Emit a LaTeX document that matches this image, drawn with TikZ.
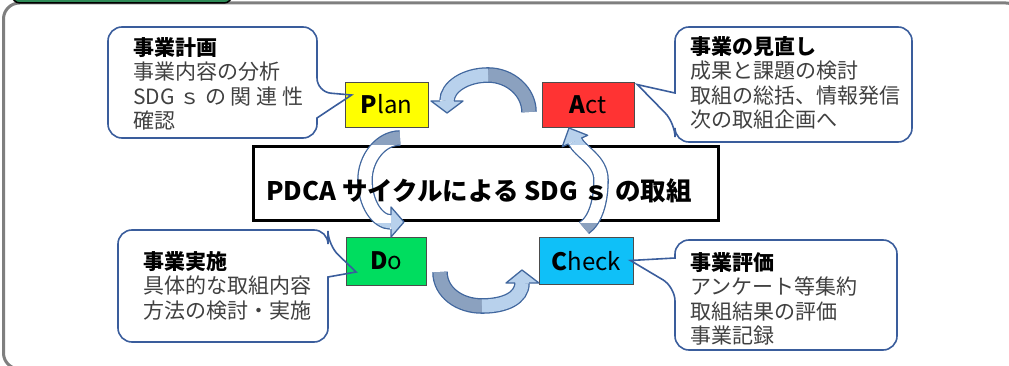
\documentclass[tikz,border=0pt]{standalone}
\usepackage{fontspec}
\setmainfont{Noto Sans CJK JP}
\usetikzlibrary{positioning,calc}

\definecolor{frameGray}{HTML}{7F7F7F}
\definecolor{tabGreen}{HTML}{2E8B57}
\definecolor{callBlue}{HTML}{3A5D9C}
\definecolor{arrLight}{HTML}{B8D1EC}
\definecolor{arrDark}{HTML}{8BA1BF}
\definecolor{arrEdge}{HTML}{41679E}
\definecolor{planY}{HTML}{FFFF00}
\definecolor{actR}{HTML}{FF3333}
\definecolor{doG}{HTML}{00DD5F}
\definecolor{chkC}{HTML}{0FC0F8}
\definecolor{bodyGray}{HTML}{404040}

\begin{document}
\begin{tikzpicture}[x=1pt,y=-1pt,on grid,
  pdca/.style={draw=black!70,line width=0.8,inner sep=0pt,font=\fontsize{24}{24}\selectfont},
  callout/.style={draw=callBlue,line width=1.6},
  calltext/.style={anchor=north west,inner sep=0pt,align=left,text=bodyGray,font=\fontsize{21}{24.5}\selectfont},
  bandedge/.style={draw=arrEdge,line width=15.6},
  bandlight/.style={draw=arrLight,line width=13},
  banddark/.style={draw=arrDark,line width=13},
  bandwhite/.style={draw=white,line width=13},
  headedge/.style={draw=arrEdge,line width=1.3,line join=round}]
  \useasboundingbox (0,0) rectangle (1009,366);

  % frame and tab
  \draw[frameGray,line width=3,rounded corners=16] (3.5,3) rectangle (1022,369);
  \draw[fill=tabGreen,draw=black,line width=1.5,rounded corners=8] (12,-20) rectangle (232,3);

  % the four steps
  \node[pdca,fill=planY,minimum width=83,minimum height=45]  (plan) at (386.5,104.5) {\textbf{P}lan};
  \node[pdca,fill=actR,minimum width=92,minimum height=45]   (act)   [right=201.5pt of plan] {\textbf{A}ct};
  \node[pdca,fill=doG,minimum width=80,minimum height=48]    (do)    [below=156.5pt of plan] {\textbf{D}o};
  \node[pdca,fill=chkC,minimum width=94,minimum height=47]   (check) [right=200pt of do] {\textbf{C}heck};

  \node[draw=black,line width=3,fill=white,minimum width=465,minimum height=74,inner sep=0pt] (titlebox) at (485.5,184) {};

  % curved arrows: tail, middle, head end
  \coordinate (ap1) at (529,112); \coordinate (ap2) at (488,75);  \coordinate (ap3) at (447,101);
  \coordinate (pd1) at (400,138); \coordinate (pd2) at (365,180); \coordinate (pd3) at (391,222);
  \coordinate (dc1) at (440,272); \coordinate (dc2) at (482,306); \coordinate (dc3) at (522,283);
  \coordinate (ca1) at (584,228); \coordinate (ca2) at (601,180); \coordinate (ca3) at (575,141);

  \draw[bandedge] (ap1) .. controls (529,92) and (510.5,75) .. (ap2) .. controls (465.5,75) and (447,87) .. (ap3);
  \draw[bandedge] (pd1) .. controls (381,138) and (365,158) .. (pd2) .. controls (365,203) and (377,222) .. (pd3);
  \draw[bandedge] (dc1) .. controls (440,292) and (459,306) .. (dc2) .. controls (505,306) and (522,298) .. (dc3);
  \draw[bandedge] (ca1) .. controls (596,220) and (601,200) .. (ca2) .. controls (601,160) and (580,152) .. (ca3);

  \begin{scope}[even odd rule]
    \clip (0,0) rectangle (1009,366) (titlebox.north west) rectangle (titlebox.south east);
    \draw[banddark]  (ap1) .. controls (529,92) and (510.5,75) .. (ap2);
    \draw[bandlight] (ap2) .. controls (465.5,75) and (447,87) .. (ap3);
    \draw[banddark]  (pd1) .. controls (381,138) and (365,158) .. (pd2);
    \draw[bandlight] (pd2) .. controls (365,203) and (377,222) .. (pd3);
    \draw[banddark]  (dc1) .. controls (440,292) and (459,306) .. (dc2);
    \draw[bandlight] (dc2) .. controls (505,306) and (522,298) .. (dc3);
    \draw[banddark]  (ca1) .. controls (596,220) and (601,200) .. (ca2);
    \draw[bandlight] (ca2) .. controls (601,160) and (580,152) .. (ca3);
  \end{scope}
  \begin{scope}
    \clip (titlebox.north west) rectangle (titlebox.south east);
    \draw[bandwhite] (pd1) .. controls (381,138) and (365,158) .. (pd2) .. controls (365,203) and (377,222) .. (pd3);
    \draw[bandwhite] (ca1) .. controls (596,220) and (601,200) .. (ca2) .. controls (601,160) and (580,152) .. (ca3);
  \end{scope}

  % arrow heads
  \fill[arrLight] (431,101) -- (447,113) -- (463,101) -- cycle;
  \draw[headedge] (440,101) -- (431,101) -- (447,113) -- (463,101) -- (454,101);
  \fill[arrLight] (391,207) -- (404,222) -- (391,237) -- cycle;
  \draw[headedge] (391,215) -- (391,207) -- (404,222) -- (391,237) -- (391,229);
  \fill[arrLight] (506,283) -- (522,270) -- (539,283) -- cycle;
  \draw[headedge] (515,283) -- (506,283) -- (522,270) -- (539,283) -- (529,283);
  \fill[arrLight] (587.7,135.3) -- (569,128) -- (562.3,146.7) -- cycle;
  \draw[headedge] (581.4,138.1) -- (587.7,135.3) -- (569,128) -- (562.3,146.7) -- (568.6,143.9);

  \node[font=\fontsize{25.5}{25.5}\selectfont\bfseries] (title) at (479,191) {PDCA サイクルによる SDG ｓ の取組};

  % callouts
  \draw[callout] (317,118) [rounded corners=14] -- (317,138) -- (108,138) -- (108,27) -- (317,27) -- (317,92)
    [sharp corners] -- ($(plan.west)+(7,-9.5)$) -- cycle;
  \draw[callout] (675,93) [rounded corners=14] -- (675,27) -- (912,27) -- (912,142) -- (675,142) -- (675,123)
    [sharp corners] -- ($(act.north east)+(3,3)$) -- cycle;
  \draw[callout] (328,277) [rounded corners=14] -- (328,342) -- (118,342) -- (118,230) -- (328,230) -- (328,245)
    [sharp corners] -- ($(do.west)+(10,11)$) -- cycle;
  \draw[callout] (675,258) [rounded corners=14] -- (675,240) -- (897,240) -- (897,350) -- (675,350) -- (675,287)
    [sharp corners] -- ($(check.east)+(-3.5,-0.5)$) -- cycle;

  \node[calltext] (plantext)  at (133,37)  {\textcolor{black}{\textbf{事業計画}}\\事業内容の分析\\SDG ｓ の 関 連 性\\確認};
  \node[calltext] (acttext)   at (690,36)  {\textcolor{black}{\textbf{事業の見直し}}\\成果と課題の検討\\取組の総括、情報発信\\次の取組企画へ};
  \node[calltext] (dotext)    at (143,251) {\textcolor{black}{\textbf{事業実施}}\\具体的な取組内容\\方法の検討・実施};
  \node[calltext] (checktext) at (690,252) {\textcolor{black}{\textbf{事業評価}}\\アンケート等集約\\取組結果の評価\\事業記録};
\end{tikzpicture}
\end{document}
